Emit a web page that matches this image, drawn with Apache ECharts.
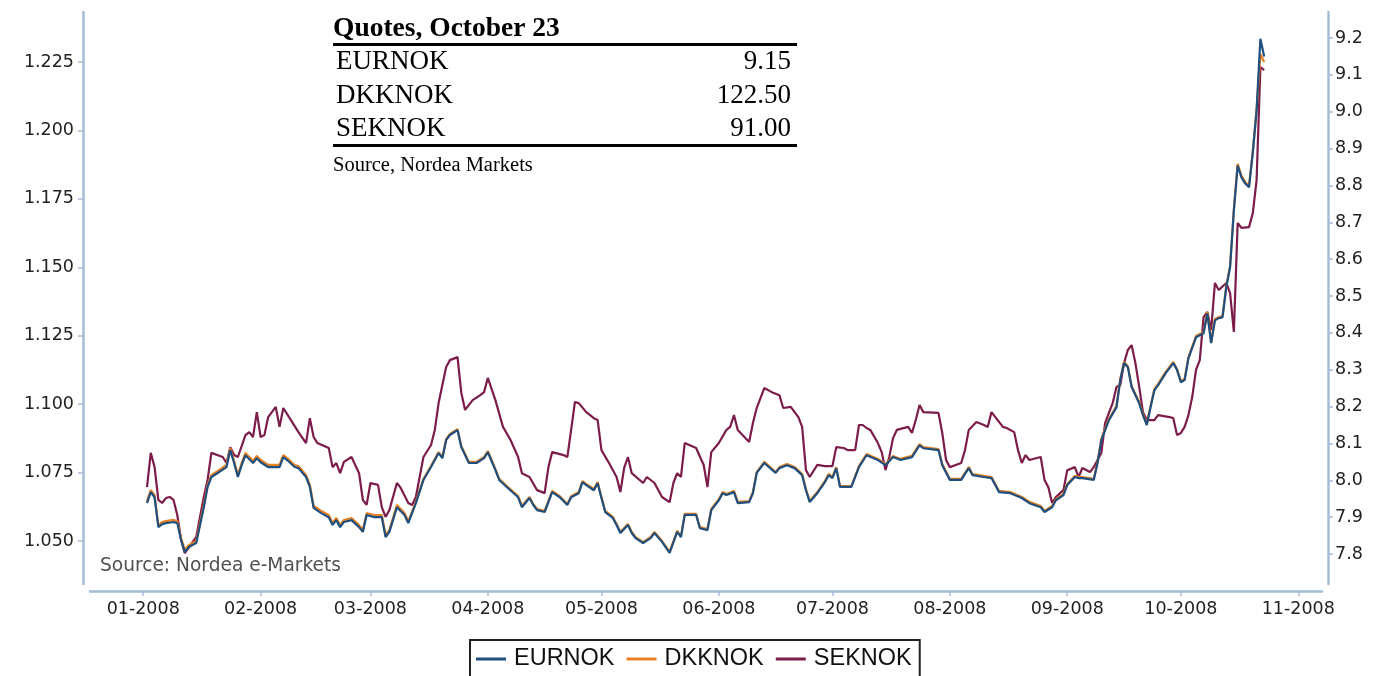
<!DOCTYPE html>
<html><head><meta charset="utf-8">
<script src="https://cdn.jsdelivr.net/npm/echarts@6/dist/echarts.min.js"></script>
<style>html,body{margin:0;padding:0;background:#fff}#c{width:1374px;height:676px}</style>
</head><body><div id="c"></div>
<script>
// ---- data ----
const blueDates = ['2008-01-02','2008-01-03','2008-01-04','2008-01-05','2008-01-06','2008-01-07','2008-01-09','2008-01-10','2008-01-11','2008-01-12','2008-01-13','2008-01-15','2008-01-17','2008-01-18','2008-01-19','2008-01-21','2008-01-23','2008-01-24','2008-01-25','2008-01-26','2008-01-27','2008-01-28','2008-01-30','2008-01-31',
'2008-02-01','2008-02-03','2008-02-06','2008-02-07','2008-02-08','2008-02-10','2008-02-11','2008-02-13','2008-02-14','2008-02-15','2008-02-17','2008-02-19','2008-02-20','2008-02-21','2008-02-22','2008-02-23','2008-02-25','2008-02-27','2008-02-28','2008-02-29',
'2008-03-02','2008-03-04','2008-03-05','2008-03-06','2008-03-08','2008-03-10','2008-03-11','2008-03-13','2008-03-15','2008-03-17','2008-03-19','2008-03-20','2008-03-21','2008-03-22','2008-03-24','2008-03-25','2008-03-27','2008-03-29','2008-03-31',
'2008-04-01','2008-04-03','2008-04-04','2008-04-06','2008-04-09','2008-04-10','2008-04-12','2008-04-13','2008-04-14','2008-04-16','2008-04-18','2008-04-20','2008-04-22','2008-04-23','2008-04-25','2008-04-26','2008-04-27','2008-04-29','2008-04-30',
'2008-05-01','2008-05-02','2008-05-04','2008-05-05','2008-05-06','2008-05-08','2008-05-09','2008-05-10','2008-05-12','2008-05-14','2008-05-15','2008-05-17','2008-05-19','2008-05-21','2008-05-22','2008-05-23','2008-05-26','2008-05-27','2008-05-29','2008-05-30',
'2008-06-01','2008-06-02','2008-06-03','2008-06-05','2008-06-06','2008-06-09','2008-06-10','2008-06-11','2008-06-13','2008-06-16','2008-06-17','2008-06-19','2008-06-21','2008-06-23','2008-06-24','2008-06-25','2008-06-27','2008-06-29','2008-06-30',
'2008-07-01','2008-07-02','2008-07-03','2008-07-06','2008-07-08','2008-07-10','2008-07-13','2008-07-15','2008-07-17','2008-07-19','2008-07-22','2008-07-24','2008-07-25','2008-07-29','2008-07-30',
'2008-08-01','2008-08-04','2008-08-06','2008-08-07','2008-08-10','2008-08-12','2008-08-14','2008-08-17','2008-08-20','2008-08-22','2008-08-25','2008-08-26','2008-08-28','2008-08-29','2008-08-31',
'2008-09-01','2008-09-03','2008-09-04','2008-09-05','2008-09-08','2008-09-09','2008-09-10','2008-09-12','2008-09-14','2008-09-15','2008-09-16','2008-09-17','2008-09-18','2008-09-20','2008-09-21','2008-09-22','2008-09-23','2008-09-24','2008-09-25','2008-09-27','2008-09-29','2008-09-30',
'2008-10-01','2008-10-02','2008-10-03','2008-10-05','2008-10-07','2008-10-08','2008-10-09','2008-10-10','2008-10-11','2008-10-12','2008-10-13','2008-10-14','2008-10-15','2008-10-16','2008-10-17','2008-10-18','2008-10-19','2008-10-20','2008-10-21','2008-10-22','2008-10-23'];

const eurnok = [7.938,7.968,7.954,7.873,7.881,7.884,7.887,7.884,7.838,7.805,7.819,7.830,7.927,7.982,8.009,8.022,8.036,8.082,8.047,8.009,8.041,8.068,8.047,8.060,
8.049,8.036,8.036,8.063,8.055,8.036,8.033,8.009,7.982,7.925,7.911,7.900,7.879,7.892,7.873,7.887,7.892,7.873,7.860,7.906,
7.900,7.900,7.846,7.860,7.927,7.906,7.884,7.938,8.001,8.036,8.074,8.060,8.109,8.123,8.136,8.090,8.047,8.047,8.060,
8.076,8.028,8.001,7.982,7.954,7.927,7.952,7.933,7.919,7.914,7.968,7.954,7.933,7.954,7.965,7.995,7.987,7.973,7.992,
7.952,7.914,7.898,7.879,7.857,7.879,7.857,7.843,7.830,7.843,7.857,7.833,7.803,7.860,7.846,7.906,7.906,7.870,7.865,7.919,
7.946,7.965,7.960,7.968,7.938,7.941,7.965,8.020,8.047,8.020,8.033,8.041,8.033,8.014,7.973,7.941,7.965,7.995,8.014,
8.006,8.033,7.982,7.982,8.036,8.068,8.055,8.041,8.063,8.055,8.063,8.095,8.087,8.082,8.041,
8.001,8.001,8.033,8.014,8.009,8.006,7.968,7.965,7.952,7.938,7.927,7.914,7.927,7.946,7.960,
7.987,8.009,8.006,8.006,8.001,8.047,8.109,8.163,8.198,8.272,8.318,8.307,8.253,8.209,8.177,8.150,8.198,8.244,8.258,8.291,8.318,8.299,
8.266,8.272,8.331,8.388,8.399,8.453,8.372,8.434,8.440,8.442,8.524,8.578,8.732,8.854,8.822,8.805,8.795,8.889,9.003,9.198,9.150];

const dkknok = [1.0646,1.0686,1.0668,1.0558,1.0569,1.0573,1.0577,1.0573,1.0511,1.0467,1.0485,1.0500,1.0632,1.0705,1.0741,1.0759,1.0778,1.0840,1.0792,1.0741,1.0785,1.0822,1.0792,1.0811,
1.0796,1.0778,1.0778,1.0814,1.0803,1.0778,1.0774,1.0741,1.0705,1.0628,1.0610,1.0595,1.0566,1.0584,1.0558,1.0577,1.0584,1.0558,1.0540,1.0602,
1.0595,1.0595,1.0522,1.0540,1.0632,1.0602,1.0573,1.0643,1.0727,1.0774,1.0825,1.0807,1.0873,1.0891,1.0909,1.0847,1.0789,1.0789,1.0807,
1.0829,1.0763,1.0727,1.0701,1.0664,1.0628,1.0661,1.0635,1.0617,1.0610,1.0683,1.0664,1.0635,1.0664,1.0679,1.0719,1.0708,1.0690,1.0716,
1.0661,1.0610,1.0588,1.0562,1.0533,1.0562,1.0533,1.0515,1.0496,1.0515,1.0533,1.0500,1.0460,1.0537,1.0518,1.0599,1.0599,1.0551,1.0544,1.0617,
1.0653,1.0679,1.0672,1.0683,1.0643,1.0646,1.0679,1.0752,1.0789,1.0752,1.0770,1.0781,1.0770,1.0745,1.0690,1.0646,1.0679,1.0719,1.0745,
1.0734,1.0770,1.0701,1.0701,1.0774,1.0818,1.0800,1.0781,1.0811,1.0800,1.0811,1.0854,1.0843,1.0836,1.0781,
1.0727,1.0727,1.0770,1.0745,1.0738,1.0734,1.0683,1.0679,1.0661,1.0643,1.0628,1.0610,1.0628,1.0653,1.0672,
1.0708,1.0738,1.0734,1.0734,1.0727,1.0789,1.0873,1.0946,1.0993,1.1092,1.1154,1.1139,1.1066,1.1008,1.0964,1.0928,1.0993,1.1055,1.1074,1.1118,1.1154,1.1128,
1.1085,1.1092,1.1172,1.1249,1.1264,1.1337,1.1227,1.1311,1.1318,1.1322,1.1432,1.1505,1.1713,1.1878,1.1834,1.1812,1.1797,1.1925,1.2078,1.2279,1.2250];

const sekDates = ['2008-01-02','2008-01-03','2008-01-04','2008-01-05','2008-01-06','2008-01-07','2008-01-08','2008-01-09','2008-01-10','2008-01-11','2008-01-12','2008-01-15','2008-01-17','2008-01-18','2008-01-19','2008-01-22','2008-01-23','2008-01-24','2008-01-25','2008-01-26','2008-01-28','2008-01-29','2008-01-30','2008-01-31',
'2008-02-01','2008-02-02','2008-02-03','2008-02-05','2008-02-06','2008-02-07','2008-02-09','2008-02-11','2008-02-13','2008-02-14','2008-02-15','2008-02-16','2008-02-19','2008-02-20','2008-02-21','2008-02-22','2008-02-23','2008-02-25','2008-02-27','2008-02-28','2008-02-29',
'2008-03-01','2008-03-03','2008-03-04','2008-03-05','2008-03-06','2008-03-08','2008-03-09','2008-03-11','2008-03-12','2008-03-13','2008-03-15','2008-03-17','2008-03-18','2008-03-19','2008-03-21','2008-03-22','2008-03-24','2008-03-25','2008-03-26','2008-03-28','2008-03-30','2008-03-31',
'2008-04-01','2008-04-03','2008-04-05','2008-04-07','2008-04-09','2008-04-10','2008-04-12','2008-04-14','2008-04-16','2008-04-17','2008-04-18','2008-04-21','2008-04-22','2008-04-23','2008-04-24','2008-04-25','2008-04-27','2008-04-29','2008-04-30',
'2008-05-01','2008-05-03','2008-05-05','2008-05-06','2008-05-07','2008-05-08','2008-05-09','2008-05-12','2008-05-13','2008-05-15','2008-05-17','2008-05-19','2008-05-20','2008-05-21','2008-05-22','2008-05-23','2008-05-26','2008-05-28','2008-05-29','2008-05-30',
'2008-06-01','2008-06-03','2008-06-04','2008-06-05','2008-06-06','2008-06-09','2008-06-10','2008-06-11','2008-06-13','2008-06-15','2008-06-17','2008-06-18','2008-06-20','2008-06-22','2008-06-23','2008-06-24','2008-06-25','2008-06-27','2008-06-29',
'2008-07-01','2008-07-02','2008-07-04','2008-07-05','2008-07-07','2008-07-08','2008-07-09','2008-07-10','2008-07-11','2008-07-13','2008-07-14','2008-07-15','2008-07-16','2008-07-17','2008-07-18','2008-07-21','2008-07-22','2008-07-23','2008-07-24','2008-07-25','2008-07-29','2008-07-30','2008-07-31',
'2008-08-01','2008-08-04','2008-08-05','2008-08-06','2008-08-08','2008-08-10','2008-08-11','2008-08-12','2008-08-15','2008-08-16','2008-08-18','2008-08-19','2008-08-20','2008-08-21','2008-08-22','2008-08-25','2008-08-26','2008-08-27','2008-08-28','2008-08-29','2008-08-31',
'2008-09-01','2008-09-03','2008-09-04','2008-09-05','2008-09-07','2008-09-08','2008-09-10','2008-09-11','2008-09-12','2008-09-13','2008-09-14','2008-09-15','2008-09-16','2008-09-17','2008-09-18','2008-09-19','2008-09-20','2008-09-21','2008-09-22','2008-09-24','2008-09-25','2008-09-28','2008-09-29','2008-09-30',
'2008-10-01','2008-10-02','2008-10-03','2008-10-04','2008-10-05','2008-10-06','2008-10-07','2008-10-08','2008-10-09','2008-10-10','2008-10-11','2008-10-13','2008-10-14','2008-10-15','2008-10-16','2008-10-17','2008-10-19','2008-10-20','2008-10-21','2008-10-22','2008-10-23'];

// SEKNOK, drawn against the left scale (as in the source chart)
const seknok = [1.0697,1.0822,1.0770,1.0650,1.0639,1.0657,1.0661,1.0650,1.0595,1.0504,1.0456,1.0515,1.0661,1.0723,1.0822,1.0807,1.0785,1.0843,1.0814,1.0807,1.0887,1.0898,1.0880,1.0971,
1.0880,1.0887,1.0953,1.0990,1.0917,1.0986,1.0942,1.0898,1.0858,1.0949,1.0880,1.0858,1.0840,1.0770,1.0785,1.0748,1.0789,1.0807,1.0748,1.0650,1.0632,
1.0712,1.0705,1.0624,1.0588,1.0613,1.0712,1.0694,1.0639,1.0632,1.0661,1.0807,1.0851,1.0906,1.1004,1.1136,1.1161,1.1172,1.1041,1.0979,1.1015,1.1033,1.1044,
1.1096,1.1015,1.0917,1.0869,1.0807,1.0748,1.0734,1.0686,1.0675,1.0770,1.0825,1.0814,1.0807,1.0906,1.1008,1.1004,1.0971,1.0949,1.0942,
1.0832,1.0785,1.0734,1.0679,1.0767,1.0807,1.0748,1.0712,1.0734,1.0712,1.0661,1.0642,1.0712,1.0748,1.0734,1.0858,1.0840,1.0778,1.0697,1.0825,
1.0858,1.0906,1.0917,1.0960,1.0906,1.0862,1.0931,1.0986,1.1059,1.1044,1.1033,1.0986,1.0990,1.0953,1.0917,1.0759,1.0734,1.0778,1.0774,
1.0774,1.0843,1.0840,1.0832,1.0832,1.0924,1.0924,1.0913,1.0906,1.0858,1.0825,1.0759,1.0807,1.0876,1.0906,1.0917,1.0895,1.0942,1.0997,1.0971,1.0968,1.0895,1.0796,
1.0770,1.0785,1.0832,1.0906,1.0935,1.0924,1.0917,1.0971,1.0917,1.0913,1.0898,1.0832,1.0785,1.0814,1.0796,1.0807,1.0723,1.0697,1.0639,1.0661,1.0686,
1.0759,1.0770,1.0734,1.0767,1.0752,1.0770,1.0822,1.0931,1.0968,1.1004,1.1063,1.1070,1.1150,1.1198,1.1216,1.1150,1.1063,1.0971,1.0942,1.0942,1.0960,1.0953,1.0949,1.0887,
1.0895,1.0917,1.0960,1.1026,1.1125,1.1161,1.1318,1.1337,1.1271,1.1443,1.1417,1.1443,1.1406,1.1264,1.1662,1.1644,1.1647,1.1698,1.1819,1.2232,1.2221];

const seriesNames = ['EURNOK', 'DKKNOK', 'SEKNOK'];
const seriesColors = ['#1f4f7e', '#e8811f', '#7c1c4b'];
const leftTicks = [1.050, 1.075, 1.100, 1.125, 1.150, 1.175, 1.200, 1.225];
const rightTicks = [7.8, 7.9, 8.0, 8.1, 8.2, 8.3, 8.4, 8.5, 8.6, 8.7, 8.8, 8.9, 9.0, 9.1, 9.2];
const monthTicks = ['2008-01-01','2008-02-01','2008-03-01','2008-04-01','2008-05-01','2008-06-01','2008-07-01','2008-08-01','2008-09-01','2008-10-01','2008-11-01'];

const quoteTitle = 'Quotes, October 23';
const quoteNames = ['EURNOK', 'DKKNOK', 'SEKNOK'];
const quoteValues = ['9.15', '122.50', '91.00'];
const quoteSource = 'Source, Nordea Markets';
const chartSource = 'Source: Nordea e-Markets';

// ---- helpers ----
function ts(s) { const p = s.split('-').map(Number); return new Date(p[0], p[1] - 1, p[2]).getTime(); }
function pairs(dates, vals) { return dates.map((d, i) => [ts(d), vals[i]]); }
const pad2 = n => (n < 10 ? '0' : '') + n;

const HOUR = 3600 * 1000;
const xMin = ts('2007-12-17') + 22.8 * HOUR;
const xMax = ts('2008-11-07') + 6.5 * HOUR;

const axisCol = '#a4bcd7';
const lblFont = '"DejaVu Sans", Verdana, sans-serif';
const serif = '"Liberation Serif", "Times New Roman", serif';

// table graphics
const tblLeft = 333, tblRight = 797;
const graphic = [
  { type: 'text', style: { text: quoteTitle, x: tblLeft, y: 29, font: 'bold 27.5px ' + serif, fill: '#000', textVerticalAlign: 'middle' } },
  { type: 'line', shape: { x1: tblLeft, y1: 44.5, x2: tblRight, y2: 44.5 }, style: { stroke: '#000', lineWidth: 3 } },
  { type: 'line', shape: { x1: tblLeft, y1: 145.5, x2: tblRight, y2: 145.5 }, style: { stroke: '#000', lineWidth: 3 } },
  { type: 'text', style: { text: quoteSource, x: tblLeft, y: 166, font: '20.5px ' + serif, fill: '#000', textVerticalAlign: 'middle' } },
  { type: 'text', style: { text: chartSource, x: 100, y: 566, font: '18.6px ' + lblFont, fill: '#505050', textVerticalAlign: 'middle' } }
];
quoteNames.forEach((n, i) => {
  const y = 62 + i * 33.5;
  graphic.push({ type: 'text', style: { text: n, x: tblLeft + 3, y: y, font: '27px ' + serif, fill: '#000', textVerticalAlign: 'middle' } });
  graphic.push({ type: 'text', style: { text: quoteValues[i], x: tblRight - 6, y: y, font: '27px ' + serif, fill: '#000', textAlign: 'right', textVerticalAlign: 'middle' } });
});

const chart = echarts.init(document.getElementById('c'), null, { renderer: 'canvas' });
chart.setOption({
  animation: false,
  backgroundColor: '#fff',
  grid: { left: 90, right: 52, top: 12, bottom: 92 },
  legend: {
    data: seriesNames,
    left: 470, top: 640,
    orient: 'horizontal',
    borderColor: '#222', borderWidth: 2, borderRadius: 0,
    padding: [7, 8, 12, 6],
    itemGap: 12, itemWidth: 30, itemHeight: 3, icon: 'rect',
    textStyle: { fontFamily: '"Liberation Sans", Arial, sans-serif', fontSize: 23.5, color: '#111', padding: [0, 0, 0, 3] }
  },
  xAxis: {
    type: 'value', min: xMin, max: xMax, offset: 7,
    axisLine: { lineStyle: { color: axisCol, width: 2.5 } },
    axisTick: { show: true, length: 5, lineStyle: { color: axisCol, width: 1.5 }, customValues: monthTicks.map(ts) },
    axisLabel: {
      customValues: monthTicks.map(ts), margin: 9,
      fontFamily: lblFont, fontSize: 17.5, color: '#222',
      formatter: v => { const d = new Date(v); return pad2(d.getMonth() + 1) + '-' + d.getFullYear(); }
    },
    splitLine: { show: false }
  },
  yAxis: [
    {
      type: 'value', position: 'left', min: 1.0343, max: 1.2433, offset: 7,
      axisLine: { show: true, lineStyle: { color: axisCol, width: 2.5 } },
      axisTick: { show: true, length: 5, lineStyle: { color: axisCol, width: 1.5 }, customValues: leftTicks },
      axisLabel: { customValues: leftTicks, formatter: v => v.toFixed(3), fontFamily: lblFont, fontSize: 17.5, color: '#222', margin: 9 },
      splitLine: { show: false }
    },
    {
      type: 'value', position: 'right', min: 7.7187, max: 9.2705, offset: 6,
      axisLine: { show: true, lineStyle: { color: axisCol, width: 2.5 } },
      axisTick: { show: true, length: 5, lineStyle: { color: axisCol, width: 1.5 }, customValues: rightTicks },
      axisLabel: { customValues: rightTicks, formatter: v => v.toFixed(1), fontFamily: lblFont, fontSize: 17.5, color: '#222', margin: 7 },
      splitLine: { show: false }
    }
  ],
  graphic: graphic,
  series: [
    { name: 'SEKNOK', type: 'line', yAxisIndex: 0, data: pairs(sekDates, seknok), showSymbol: false, symbol: 'none', lineStyle: { color: seriesColors[2], width: 2.2 }, itemStyle: { color: seriesColors[2] } },
    { name: 'DKKNOK', type: 'line', yAxisIndex: 0, data: pairs(blueDates, dkknok), showSymbol: false, symbol: 'none', lineStyle: { color: seriesColors[1], width: 2.2 }, itemStyle: { color: seriesColors[1] } },
    { name: 'EURNOK', type: 'line', yAxisIndex: 1, data: pairs(blueDates, eurnok), showSymbol: false, symbol: 'none', lineStyle: { color: seriesColors[0], width: 2.2 }, itemStyle: { color: seriesColors[0] } }
  ]
});
</script>
</body></html>
